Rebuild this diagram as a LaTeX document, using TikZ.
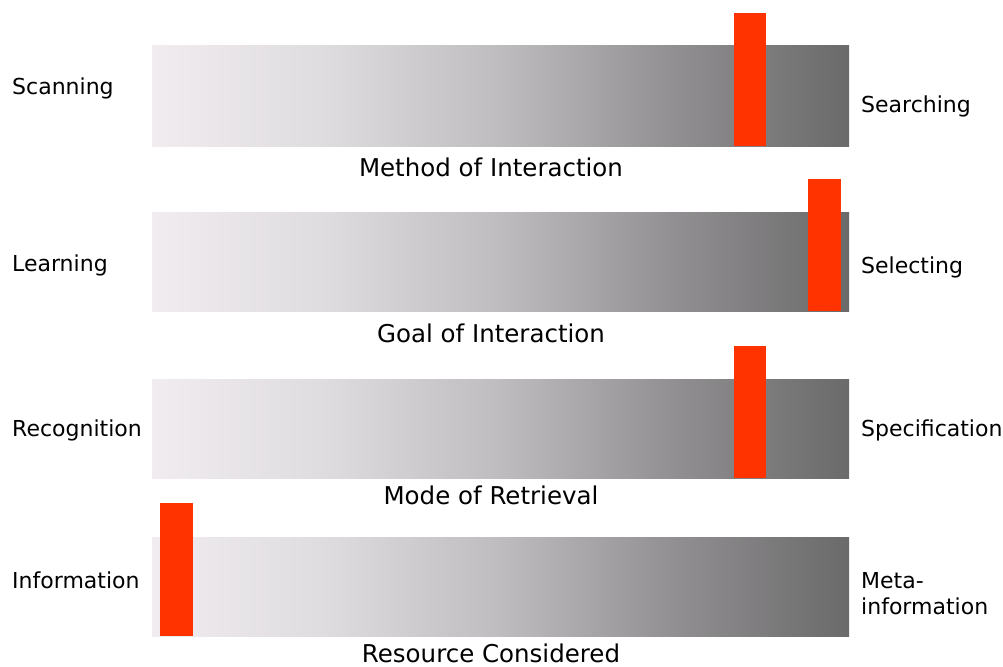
\documentclass[tikz,border=0pt]{standalone}
\usepackage{fontspec}
\setmainfont{DejaVu Sans}
\definecolor{barL}{RGB}{240,236,240}
\definecolor{barA}{RGB}{223,220,223}
\definecolor{barB}{RGB}{190,188,190}
\definecolor{barC}{RGB}{145,143,145}
\definecolor{barR}{RGB}{107,106,107}
\definecolor{markercol}{RGB}{255,51,0}
\pgfdeclarehorizontalshading{barshade}{100bp}{color(0bp)=(barL); color(25bp)=(barL); color(37.5bp)=(barA); color(50bp)=(barB); color(62.5bp)=(barC); color(75bp)=(barR); color(100bp)=(barR)}
\begin{document}
\begin{tikzpicture}[x=1pt,y=-1pt,
  bar/.style={shading=barshade,draw=none},
  redmarker/.style={fill=markercol,draw=none},
  side/.style={inner sep=0pt,font=\fontsize{22}{24}\selectfont},
  title/.style={inner sep=0pt,font=\fontsize{24.5}{28}\selectfont}]
\useasboundingbox[fill=white] (0,0) rectangle (1003,666);
% bars
\shade[bar] (152,46) rectangle (849,146);
\shade[bar] (152,212) rectangle (849,311);
\shade[bar] (152,379) rectangle (849,478);
\shade[bar] (152,537) rectangle (849,636);
% markers
\fill[redmarker] (734,13) rectangle (766,146);
\fill[redmarker] (808,179) rectangle (841,311);
\fill[redmarker] (734,346) rectangle (766,478);
\fill[redmarker] (160,503) rectangle (193,636);
% left labels
\node[side,anchor=base west] (l1) at (12,95) {Scanning};
\node[side,anchor=base west] (l2) at (12,271) {Learning};
\node[side,anchor=base west] (l3) at (12,436) {Recognition};
\node[side,anchor=base west] (l4) at (12,588) {Information};
% right labels
\node[side,anchor=base west] (r1) at (861,113) {Searching};
\node[side,anchor=base west] (r2) at (861,273) {Selecting};
\node[side,anchor=base west] (r3) at (861,436) {Specification};
\node[side,anchor=base west] (r4a) at (861,588) {Meta-};
\node[side,anchor=base west] (r4b) at (861,614) {information};
% titles
\node[title,anchor=base] (t1) at (491,176) {Method of Interaction};
\node[title,anchor=base] (t2) at (491,342) {Goal of Interaction};
\node[title,anchor=base] (t3) at (491,504) {Mode of Retrieval};
\node[title,anchor=base] (t4) at (491,662) {Resource Considered};
\end{tikzpicture}
\end{document}
